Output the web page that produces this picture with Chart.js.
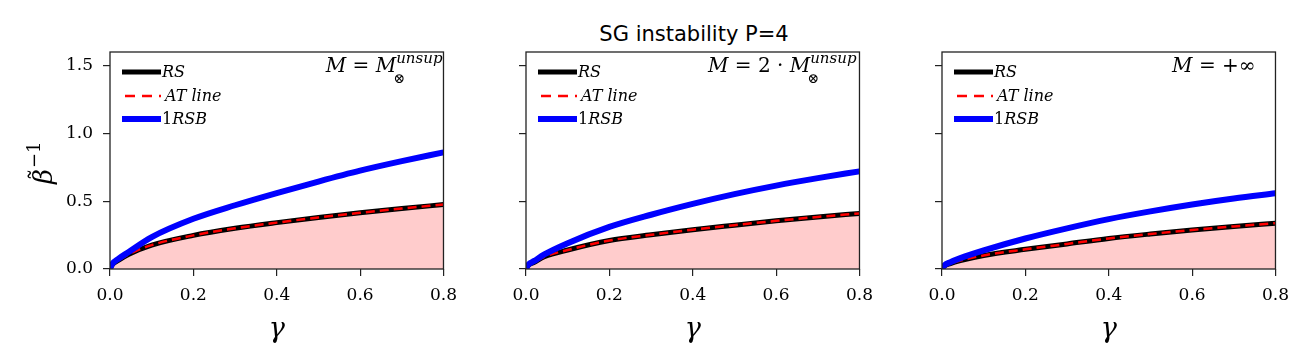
<!DOCTYPE html>
<html>
<head>
<meta charset="utf-8">
<script src="https://cdn.jsdelivr.net/npm/chart.js@4"></script>
<style>
  body { margin: 0; background: #fff; }
  #wrap { position: relative; width: 1314px; height: 364px; overflow: hidden; }
  canvas { position: absolute; top: 0; }
  #title { position: absolute; left: 544px; top: 22px; width: 300px; text-align: center;
           font: 21px "DejaVu Sans", sans-serif; color: #000; }
</style>
</head>
<body>
<div id="wrap">
  <div id="title">SG instability P=4</div>
  <canvas id="c1"></canvas>
  <canvas id="c2"></canvas>
  <canvas id="c3"></canvas>
</div>
<script>
const gamma = [0, 0.005, 0.02, 0.044, 0.1, 0.2, 0.3, 0.4, 0.5, 0.6, 0.7, 0.8];

// M = M_unsup
const rsP1  = [0, 0.03, 0.063, 0.107, 0.176, 0.248, 0.30, 0.342, 0.38, 0.414, 0.446, 0.475];
const atP1  = [0, 0.03, 0.063, 0.107, 0.176, 0.248, 0.30, 0.342, 0.38, 0.414, 0.446, 0.475];
const rsbP1 = [0, 0.035, 0.075, 0.124, 0.235, 0.37, 0.47, 0.56, 0.645, 0.725, 0.795, 0.86];

// M = 2 * M_unsup
const rsP2  = [0, 0.025, 0.05, 0.09, 0.14, 0.21, 0.252, 0.29, 0.323, 0.355, 0.384, 0.41];
const atP2  = [0, 0.025, 0.05, 0.09, 0.14, 0.21, 0.252, 0.29, 0.323, 0.355, 0.384, 0.41];
const rsbP2 = [0, 0.03, 0.06, 0.107, 0.19, 0.31, 0.40, 0.48, 0.552, 0.615, 0.67, 0.72];

// M = +inf
const rsP3  = [0, 0.02, 0.04, 0.062, 0.10, 0.145, 0.185, 0.225, 0.258, 0.288, 0.314, 0.338];
const atP3  = [0, 0.02, 0.04, 0.062, 0.10, 0.145, 0.185, 0.225, 0.258, 0.288, 0.314, 0.338];
const rsbP3 = [0, 0.025, 0.05, 0.08, 0.137, 0.225, 0.30, 0.368, 0.425, 0.476, 0.52, 0.558];

const xTicks = [0, 0.2, 0.4, 0.6, 0.8];
const yTicks = [0, 0.5, 1.0, 1.5];
const legendLabels = ['RS', 'AT line', '1RSB'];

const serif = '"DejaVu Serif", serif';
const PLOT_TOP = 52, PLOT_BOTTOM = 269, PLOT_W = 336, H = 364;

function pts(ys) {
    return gamma.map((g, i) => ({ x: g, y: ys[i] }));
}

// draw a row of text pieces, right aligned on xr
function drawPieces(ctx, pieces, xr, y) {
    let total = 0;
    pieces.forEach(p => {
        ctx.font = p.font;
        if (p.sup !== undefined) {
            p.w = ctx.measureText(p.sup).width;
        } else {
            p.w = ctx.measureText(p.text).width;
        }
        total += p.w;
    });
    let x = xr - total;
    ctx.textAlign = 'left';
    ctx.textBaseline = 'alphabetic';
    pieces.forEach(p => {
        if (p.sup !== undefined) {
            ctx.font = p.subFont;
            ctx.fillText(p.sub, x - 3, y + 11);
            ctx.font = p.font;
            ctx.fillText(p.sup, x, y - 9);
        } else {
            ctx.font = p.font;
            ctx.fillText(p.text, x, y);
        }
        x += p.w;
    });
}

const decor = {
    id: 'decor',
    afterDraw(chart) {
        const ctx = chart.ctx;
        const a = chart.chartArea;
        const o = chart.options.plugins.decor;
        ctx.save();
        ctx.strokeStyle = '#222';
        ctx.lineWidth = 1.3;
        ctx.strokeRect(a.left, a.top, a.right - a.left, a.bottom - a.top);

        // legend
        const lx0 = a.left + 12, lx1 = a.left + 51;
        const rows = [a.top + 20, a.top + 44, a.top + 67];
        ctx.lineCap = 'butt';
        ctx.strokeStyle = '#000'; ctx.lineWidth = 5;
        ctx.beginPath(); ctx.moveTo(lx0, rows[0]); ctx.lineTo(lx1, rows[0]); ctx.stroke();
        ctx.strokeStyle = '#ff0000'; ctx.lineWidth = 2.5; ctx.setLineDash([10, 7]);
        ctx.beginPath(); ctx.moveTo(lx0 + 3, rows[1]); ctx.lineTo(lx1, rows[1]); ctx.stroke();
        ctx.setLineDash([]);
        ctx.strokeStyle = '#0000ff'; ctx.lineWidth = 6;
        ctx.beginPath(); ctx.moveTo(lx0, rows[2]); ctx.lineTo(lx1, rows[2]); ctx.stroke();

        ctx.fillStyle = '#000';
        ctx.textBaseline = 'middle';
        ctx.textAlign = 'left';
        ctx.font = 'italic 16px ' + serif;
        ctx.fillText(legendLabels[0], lx1 + 1, rows[0] + 1);
        ctx.fillText(legendLabels[1], lx1 + 4, rows[1] + 1);
        ctx.font = '16px ' + serif;
        ctx.fillText(legendLabels[2].slice(0, 1), lx1 + 1, rows[2] + 1);
        const w1 = ctx.measureText('1').width;
        ctx.font = 'italic 16px ' + serif;
        ctx.fillText(legendLabels[2].slice(1), lx1 + 1 + w1, rows[2] + 1);

        // annotation
        drawPieces(ctx, o.note, a.right - o.noteInset, a.top + 20);

        // x label
        ctx.font = 'italic 27px ' + serif;
        ctx.textAlign = 'center';
        ctx.textBaseline = 'alphabetic';
        ctx.fillText('γ', (a.left + a.right) / 2, 337);

        // y label
        if (o.yLabel) {
            ctx.translate(48, 160);
            ctx.rotate(-Math.PI / 2);
            ctx.textAlign = 'left';
            ctx.font = 'italic 26px ' + serif;
            ctx.fillText('β', -24, 4);
            const wb = ctx.measureText('β').width;
            ctx.font = '24px ' + serif;
            ctx.fillText('\u02dc', -24 + wb / 2 - 4, -1);
            ctx.font = '18px ' + serif;
            ctx.fillText('\u22121', -24 + wb + 1, -8);
        }
        ctx.restore();
    }
};

function makePanel(id, canvasLeft, plotLeft, rs, at, rsb, note, noteInset, showY) {
    const cv = document.getElementById(id);
    const yW = plotLeft - canvasLeft;
    cv.width = yW + PLOT_W + 20;
    cv.height = H;
    cv.style.left = canvasLeft + 'px';

    const chart = new Chart(cv, {
        type: 'line',
        data: {
            datasets: [
                { label: legendLabels[2], data: pts(rsb), borderColor: '#0000ff', borderWidth: 6,
                  pointRadius: 0, fill: false, cubicInterpolationMode: 'monotone' },
                { label: legendLabels[1], data: pts(at), borderColor: '#ff0000', borderWidth: 2.5,
                  borderDash: [9, 5], pointRadius: 0, fill: 'origin',
                  backgroundColor: 'rgba(255,0,0,0.2)', cubicInterpolationMode: 'monotone' },
                { label: legendLabels[0], data: pts(rs), borderColor: '#000', borderWidth: 5,
                  pointRadius: 0, fill: false, cubicInterpolationMode: 'monotone' }
            ]
        },
        options: {
            responsive: false,
            animation: false,
            devicePixelRatio: 1,
            layout: { padding: { top: PLOT_TOP, right: 20, left: 0, bottom: 0 } },
            plugins: {
                legend: { display: false },
                tooltip: { enabled: false },
                filler: { drawTime: 'beforeDatasetsDraw' },
                decor: { note: note, noteInset: noteInset, yLabel: showY }
            },
            scales: {
                x: {
                    type: 'linear', min: 0, max: 0.8,
                    afterBuildTicks: s => { s.ticks = xTicks.map(v => ({ value: v })); },
                    afterFit: s => { s.height = H - PLOT_BOTTOM; },
                    ticks: { color: '#000', font: { family: serif, size: 17 }, padding: 9,
                             maxRotation: 0, callback: v => v.toFixed(1) },
                    grid: { drawOnChartArea: false, drawTicks: true, tickLength: 7, color: '#222', lineWidth: 1.2 },
                    border: { display: false }
                },
                y: {
                    type: 'linear', min: 0, max: 1.6,
                    afterBuildTicks: s => { s.ticks = yTicks.map(v => ({ value: v })); },
                    afterFit: s => { s.width = yW; },
                    ticks: { display: showY, color: '#000', font: { family: serif, size: 17 }, padding: 10,
                             callback: v => v.toFixed(1) },
                    grid: { drawOnChartArea: false, drawTicks: true, tickLength: 7, color: '#222', lineWidth: 1.2 },
                    border: { display: false }
                }
            }
        },
        plugins: [decor]
    });

    // nudge the padding so the plot box lands where the reference has it
    const pad = chart.options.layout.padding;
    const dr = chart.chartArea.right - (yW + PLOT_W);
    const dt = chart.chartArea.top - PLOT_TOP;
    if (dr !== 0 || dt !== 0) {
        pad.right = pad.right + dr;
        pad.top = pad.top - dt;
        chart.update();
    }
}

const mathFont = 'italic 20px ' + serif;
const romanFont = '20px ' + serif;
const noteSupSub = { sub: '⊗', sup: 'unsup', font: 'italic 15px ' + serif, subFont: '14px ' + serif };

makePanel('c1', 0, 110, rsP1, atP1, rsbP1, [
    { text: 'M', font: mathFont }, { text: ' = ', font: romanFont }, { text: 'M', font: mathFont },
    Object.assign({}, noteSupSub)
], 1, true);

makePanel('c2', 446, 526, rsP2, atP2, rsbP2, [
    { text: 'M', font: mathFont }, { text: ' = 2 · ', font: romanFont }, { text: 'M', font: mathFont },
    Object.assign({}, noteSupSub)
], 3, false);

makePanel('c3', 862, 942, rsP3, atP3, rsbP3, [
    { text: 'M', font: mathFont }, { text: ' = +∞', font: romanFont }
], 20, false);
</script>
</body>
</html>
